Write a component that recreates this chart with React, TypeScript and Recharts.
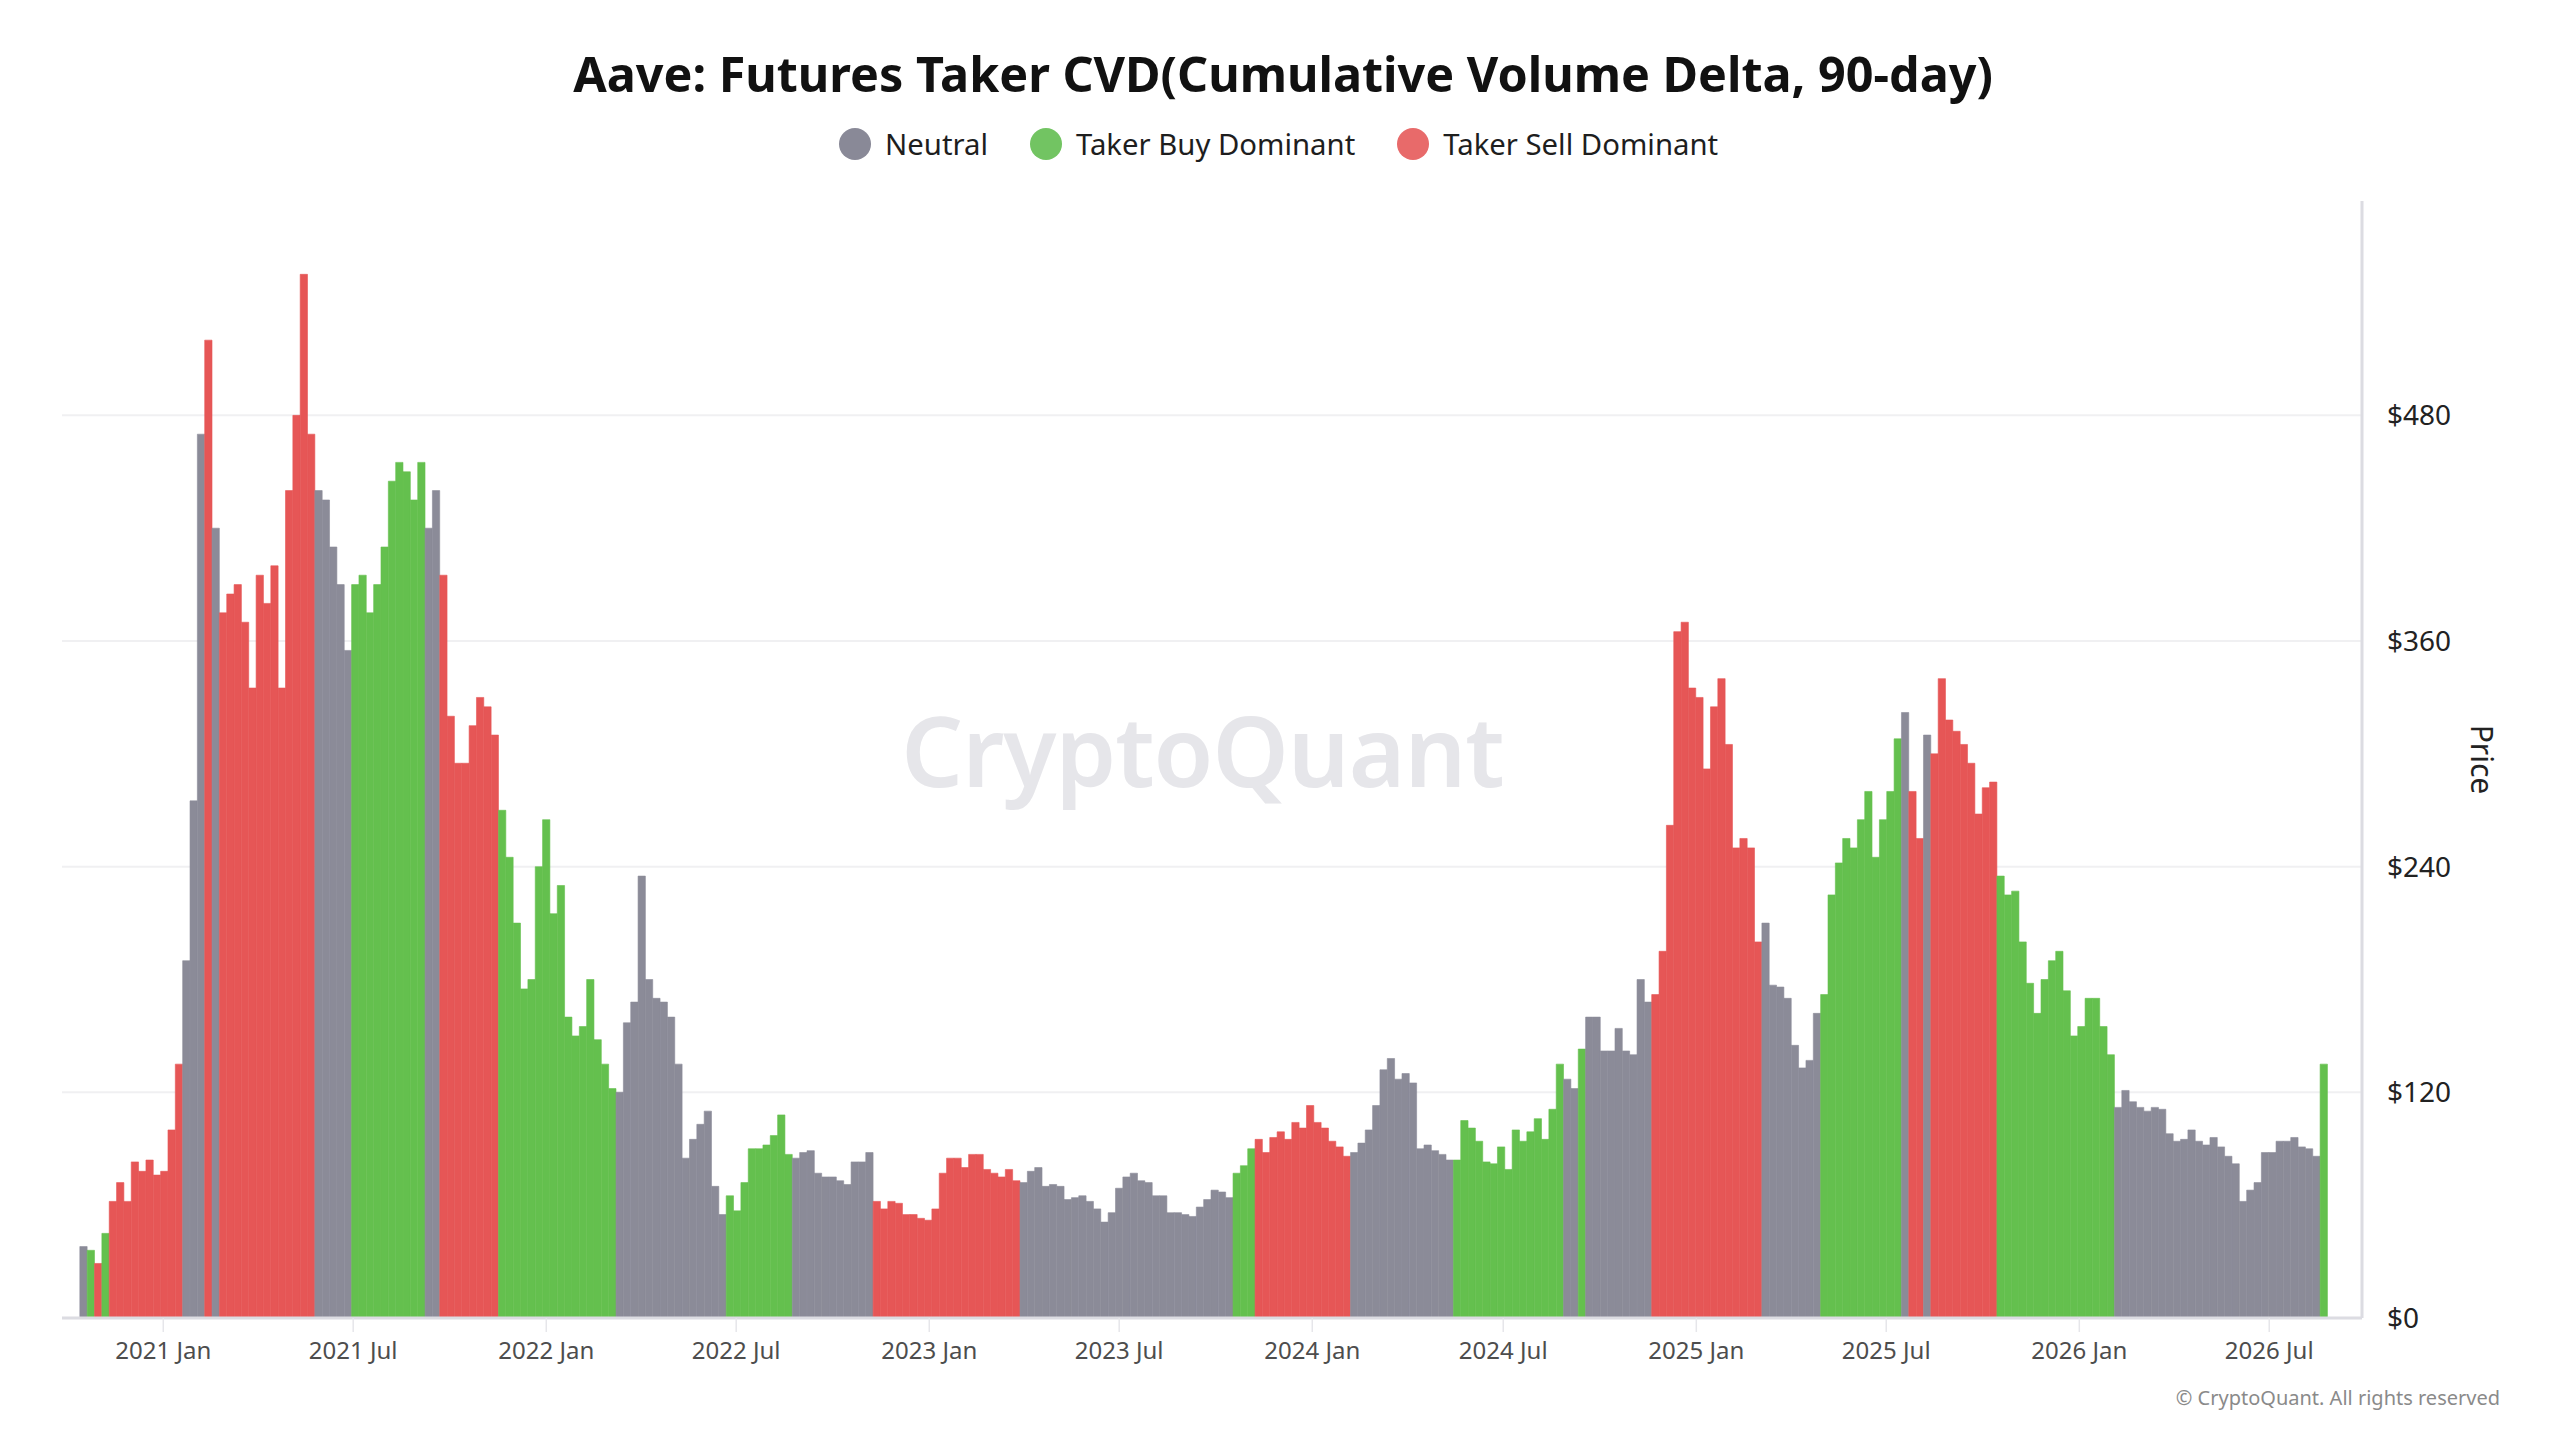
import { Bar, BarChart, CartesianGrid, Cell, XAxis, YAxis } from "recharts";

const FONT = "'Noto Sans', 'Open Sans', sans-serif";

// one bar per week; day offsets are counted from 2021-01-01
const FIRST_WEEK_DAY = -76;
const WEEK_DAYS = 7;

// N = neutral, B = taker buy dominant, S = taker sell dominant
const weeks2020 = [38, 36, 29, 45, 62, 72, 62, 83, 78, 84, 76];
const regimes2020 = "NBSBSSSSSSS";

const weeks2021 = [
  78, 100, 135, 190, 275, 470, 520, 420, 375, 385, 390, 370, 335, 395, 380, 400, 335, 440, 480, 555,
  470, 440, 435, 410, 390, 355, 390, 395, 375, 390, 410, 445, 455, 450, 435, 455, 420, 440, 395, 320,
  295, 295, 315, 330, 325, 310, 270, 245, 210, 175, 180, 240,
];
const regimes2021 = "SSSNNNSNSSSSSSSSSSSSSNNNNNBBBBBBBBBBNNSSSSSSSSBBBBBB";

const weeks2022 = [
  265, 215, 230, 160, 150, 155, 180, 148, 135, 122, 120, 157, 168, 235, 180, 170, 168, 160, 135, 85,
  95, 103, 110, 70, 55, 65, 57, 72, 90, 90, 92, 97, 108, 87, 85, 88, 89, 77, 75, 75,
  73, 71, 83, 83, 88, 62, 58, 62, 61, 55, 55, 53,
];
const regimes2022 = "BBBBBBBBBBNNNNNNNNNNNNNNNBBBBBBBBBNNNNNNNNNNNSSSSSSS";

const weeks2023 = [
  52, 58, 77, 85, 85, 80, 87, 87, 79, 77, 75, 79, 73, 72, 78, 80, 70, 71, 70, 63,
  64, 65, 62, 58, 51, 56, 69, 75, 77, 73, 72, 65, 65, 56, 56, 55, 54, 59, 63, 68,
  67, 64, 77, 81, 90, 95, 88, 96, 99, 95, 104, 101,
];
const regimes2023 = "SSSSSSSSSSSSSNNNNNNNNNNNNNNNNNNNNNNNNNNNNNBBBSSSSSSS";

const weeks2024 = [
  113, 104, 101, 94, 91, 86, 88, 93, 100, 113, 132, 138, 127, 130, 125, 90, 92, 89, 87, 84,
  84, 105, 101, 94, 83, 82, 91, 79, 100, 94, 99, 106, 95, 111, 135, 127, 122, 143, 160, 160,
  142, 142, 154, 142, 140, 180, 168, 172, 195, 262, 365, 370, 335,
];
const regimes2024 = "SSSSSSNNNNNNNNNNNNNNBBBBBBBBBBBBBBBNNBNNNNNNNNNSSSSSS";

const weeks2025 = [
  330, 292, 325, 340, 305, 250, 255, 250, 200, 210, 177, 176, 170, 145, 133, 137, 162, 172, 225, 242,
  255, 250, 265, 280, 245, 265, 280, 308, 322, 280, 255, 310, 300, 340, 318, 312, 305, 295, 268, 282,
  285, 235, 225, 227, 200, 178, 162, 180, 190, 195, 174, 150,
];
const regimes2025 = "SSSSSSSSSNNNNNNNNBBBBBBBBBBBNSSNSSSSSSSSSBBBBBBBBBBB";

const weeks2026 = [
  155, 170, 170, 155, 140, 112, 121, 115, 112, 110, 112, 111, 98, 94, 95, 100, 94, 92, 96, 91,
  86, 82, 62, 68, 72, 88, 88, 94, 94, 96, 91, 90, 86, 135,
];
const regimes2026 = "BBBBBNNNNNNNNNNNNNNNNNNNNNNNNNNNNB";

const tickDays = [0, 181, 365, 546, 730, 911, 1095, 1277, 1461, 1642, 1826, 2007];
const tickLabels = [
  "2021 Jan", "2021 Jul", "2022 Jan", "2022 Jul", "2023 Jan", "2023 Jul",
  "2024 Jan", "2024 Jul", "2025 Jan", "2025 Jul", "2026 Jan", "2026 Jul",
];
const priceTicks = [0, 120, 240, 360, 480];

const REGIME_COLORS: Record<string, string> = {
  N: "#8b8b98",
  B: "#64c04e",
  S: "#e65656",
};

const LEGEND_ITEMS = [
  { label: "Neutral", color: "#898997" },
  { label: "Taker Buy Dominant", color: "#72c462" },
  { label: "Taker Sell Dominant", color: "#e86a6a" },
];

const prices = [...weeks2020, ...weeks2021, ...weeks2022, ...weeks2023, ...weeks2024, ...weeks2025, ...weeks2026];
const regimes = (regimes2020 + regimes2021 + regimes2022 + regimes2023 + regimes2024 + regimes2025 + regimes2026).split("");

const data = prices.map((price, i) => ({
  day: FIRST_WEEK_DAY + i * WEEK_DAYS,
  price,
  regime: regimes[i] ?? "N",
}));

function formatTick(day: number): string {
  const idx = tickDays.indexOf(day);
  return idx >= 0 ? tickLabels[idx] : "";
}

export default function App() {
  return (
    <div
      style={{
        position: "absolute",
        left: 0,
        top: 0,
        width: 2560,
        height: 1440,
        background: "#ffffff",
        fontFamily: FONT,
        overflow: "hidden",
      }}
    >
      <div
        style={{
          position: "absolute",
          left: 3,
          top: 43,
          width: 2560,
          textAlign: "center",
          fontSize: 48.5,
          lineHeight: "60px",
          fontWeight: 700,
          color: "#111111",
        }}
      >
        Aave: Futures Taker CVD(Cumulative Volume Delta, 90-day)
      </div>

      <div
        style={{
          position: "absolute",
          left: 839,
          top: 124,
          height: 40,
          display: "flex",
          alignItems: "center",
        }}
      >
        {LEGEND_ITEMS.map((item) => (
          <div key={item.label} style={{ display: "flex", alignItems: "center", marginRight: 42 }}>
            <span
              style={{
                width: 32,
                height: 32,
                borderRadius: "50%",
                background: item.color,
                display: "inline-block",
                marginRight: 14,
              }}
            />
            <span style={{ fontSize: 29.3, color: "#1e1e1e", lineHeight: "40px" }}>{item.label}</span>
          </div>
        ))}
      </div>

      <div
        style={{
          position: "absolute",
          left: 0,
          top: 694,
          width: 2405,
          textAlign: "center",
          fontSize: 97,
          lineHeight: "110px",
          fontWeight: 600,
          color: "#e6e6ea",
          letterSpacing: -1,
        }}
      >
        CryptoQuant
      </div>

      <div style={{ position: "absolute", left: 0, top: 0 }}>
        <BarChart
          width={2560}
          height={1440}
          data={data}
          margin={{ top: 201, right: 58, bottom: 62, left: 62 }}
        >
          <CartesianGrid
            horizontal
            vertical={false}
            horizontalValues={priceTicks}
            stroke="#f0f0f2"
            strokeWidth={2}
          />
          <XAxis
            type="number"
            dataKey="day"
            domain={[-96.5, 2095.4]}
            allowDataOverflow
            ticks={tickDays}
            interval={0}
            tickFormatter={formatTick}
            height={60}
            tickSize={14}
            tickMargin={10}
            tick={{ fill: "#4d4d4d", fontSize: 24, fontFamily: FONT }}
            axisLine={{ stroke: "#dcdce2", strokeWidth: 3 }}
            tickLine={{ stroke: "#e6e6ea", strokeWidth: 1.5 }}
          />
          <YAxis
            orientation="right"
            domain={[0, 594]}
            allowDataOverflow
            ticks={priceTicks}
            interval={0}
            tickFormatter={(v: number) => `$${v}`}
            width={140}
            tickSize={0}
            tickMargin={25}
            tickLine={false}
            axisLine={{ stroke: "#dcdce2", strokeWidth: 3 }}
            tick={{ fill: "#222222", fontSize: 28, fontFamily: FONT }}
            label={{
              value: "Price",
              angle: 90,
              position: "center",
              dx: 50,
              fill: "#222222",
              fontSize: 30,
              fontFamily: FONT,
            }}
          />
          <Bar dataKey="price" barSize={7.3} isAnimationActive={false}>
            {data.map((entry, i) => (
              <Cell
                key={i}
                fill={REGIME_COLORS[entry.regime]}
                stroke={REGIME_COLORS[entry.regime]}
                strokeWidth={0.6}
              />
            ))}
          </Bar>
        </BarChart>
      </div>

      <div
        style={{
          position: "absolute",
          right: 60,
          top: 1387,
          fontSize: 20,
          lineHeight: "22px",
          color: "#8a8a8a",
        }}
      >
        © CryptoQuant. All rights reserved
      </div>
    </div>
  );
}
